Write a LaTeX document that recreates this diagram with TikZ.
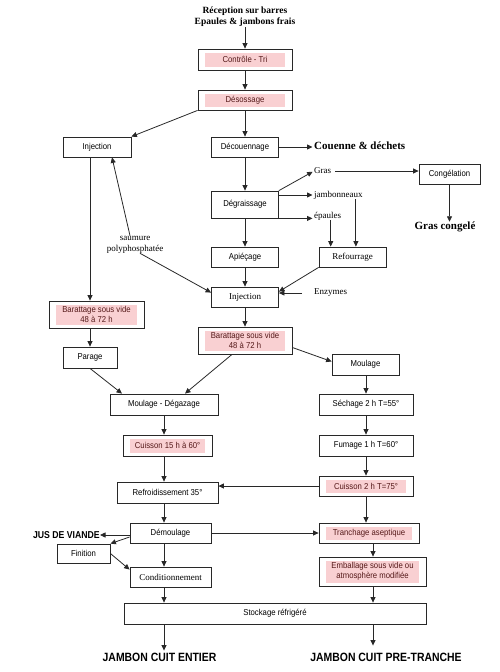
\documentclass[tikz,border=0pt]{standalone}
\usepackage{fontspec}
\setmainfont{Liberation Serif}
\setsansfont{Liberation Sans}
\newfontfamily\narrowsans[FakeStretch=0.9]{Liberation Sans}
\newfontfamily\narrowsansb[FakeStretch=0.87]{Liberation Sans Bold}
\usetikzlibrary{arrows.meta,calc}

\definecolor{rose}{RGB}{249,208,210}
\definecolor{roseText}{RGB}{85,25,25}
\definecolor{trait}{RGB}{40,40,40}

\begin{document}
\begin{tikzpicture}[x=1pt,y=-1pt]
    % -----------------------------
    % Parameters (1 unit = 1 pixel, y pointing down)
    % -----------------------------
    \def\colL{164}      % left column  (jambon entier)
    \def\colM{245}      % central column
    \def\colR{366}      % right column (jambon pre-tranche)
    \def\colRb{373}     % right column, lower part
    \def\colLL{90}      % far left column (injection / barattage)

    % Fonts
    \newcommand{\boxfont}{\narrowsans\fontsize{8.6}{10}\selectfont}
    \newcommand{\lblfont}{\rmfamily\fontsize{9}{11}\selectfont}
    \newcommand{\bigserif}{\rmfamily\bfseries\fontsize{11}{13}\selectfont}
    \newcommand{\bigsans}{\narrowsansb\fontsize{12}{14}\selectfont}
    \newcommand{\capsfont}{\narrowsansb\fontsize{10}{12}\selectfont}

    % -----------------------------
    % Styles
    % -----------------------------
    \tikzset{
      etape/.style={draw=trait, line width=0.8pt, fill=white, inner sep=0pt,
                    minimum height=20pt, font=\boxfont, align=center},
      etapeRose/.style={etape, text=roseText,
        path picture={\fill[rose]
          ($(path picture bounding box.south west)+(7pt,3.5pt)$) rectangle
          ($(path picture bounding box.north east)+(-7pt,-3.5pt)$);}},
      lien/.style={draw=trait, line width=0.8pt, -{Triangle[length=5.5pt,width=5pt]}},
      lbl/.style={inner sep=0pt, font=\lblfont},
    }

    \useasboundingbox (0,0) rectangle (500,672);

    % column guides
    \coordinate (xL)  at (\colL,0);
    \coordinate (xR)  at (\colR,0);
    \coordinate (xRb) at (\colRb,0);
    \coordinate (xLL) at (\colLL,0);

    % -----------------------------
    % Steps
    % -----------------------------
    \node[lbl, font=\rmfamily\bfseries\fontsize{9.5}{11}\selectfont, align=center] (recep) at (\colM,17)
         {Réception sur barres\\Epaules \& jambons frais};
    \node[etapeRose, minimum width=94pt, minimum height=21pt] (ctrl) at (\colM,59.5) {Contrôle - Tri};
    \node[etapeRose, minimum width=94pt] (deso) at (\colM,100) {Désossage};
    \node[etape, minimum width=68pt] (injL) at (97,147) {Injection};
    \node[etape, minimum width=67pt] (decou) at (\colM,147) {Découennage};
    \node[lbl, anchor=west, font=\bigserif] (couenne) at (314,146) {Couenne \& déchets};
    \node[etape, minimum width=67pt, minimum height=27pt] (degr) at (\colM,204.5) {Dégraissage};
    \node[lbl, anchor=west] (gras) at (314,171) {Gras};
    \node[etape, minimum width=61pt] (cong) at (449.5,174) {Congélation};
    \node[lbl, font=\bigserif] (grascong) at (445,227) {Gras congelé};
    \node[lbl, anchor=west] (jamb) at (314,195) {jambonneaux};
    \node[lbl, anchor=west] (epau) at (314,216) {épaules};
    \node[etape, minimum width=67pt, font=\lblfont] (refour) at (352.5,257) {Refourrage};
    \node[etape, minimum width=67pt] (apie) at (\colM,257) {Apiéçage};
    \node[lbl, align=center] (saum) at (135,244.5) {saumure\\polyphosphatée};
    \node[etape, minimum width=67pt, font=\lblfont] (injC) at (\colM,297) {Injection};
    \node[lbl, anchor=west] (enz) at (314,293) {Enzymes};
    \node[etapeRose, minimum width=95pt, minimum height=27pt] (baratL) at (96.5,314.5) {Barattage sous vide\\48 à 72 h};
    \node[etape, minimum width=54pt, minimum height=21pt] (parage) at (\colLL,357.5) {Parage};
    \node[etapeRose, minimum width=94pt, minimum height=27pt] (baratC) at (\colM,340.5) {Barattage sous vide\\48 à 72 h};
    \node[etape, minimum width=67pt, minimum height=21pt] (moul) at (365.5,364.5) {Moulage};
    \node[etape, minimum width=108pt, minimum height=21pt] (moudeg) at (\colL,404.5) {Moulage - Dégazage};
    \node[etape, minimum width=94pt, minimum height=21pt] (sech) at (\colR,404.5) {Séchage 2 h T=55°};
    \node[etapeRose, minimum width=89pt, minimum height=21pt] (cuis15) at (167.5,445.5) {Cuisson 15 h à 60°};
    \node[etape, minimum width=94pt, minimum height=21pt] (fum) at (\colR,445.5) {Fumage 1 h T=60°};
    \node[etapeRose, minimum width=94pt] (cuis2) at (\colR,486) {Cuisson 2 h T=75°};
    \node[etape, minimum width=101pt, minimum height=21pt] (refr) at (167.5,492.5) {Refroidissement 35°};
    \node[etape, minimum width=81pt] (demoul) at (170.5,533) {Démoulage};
    \node[lbl, anchor=east, font=\capsfont] (jus) at (100,535) {JUS DE VIANDE};
    \node[etape, minimum width=53pt, minimum height=19pt] (fini) at (83.5,553.5) {Finition};
    \node[etape, minimum width=81pt, font=\lblfont] (cond) at (170.5,577) {Conditionnement};
    \node[etapeRose, minimum width=100pt] (tranch) at (369,533) {Tranchage aseptique};
    \node[etapeRose, minimum width=107pt, minimum height=29pt] (emb) at (372.5,571.5)
         {Emballage sous vide ou\\atmosphère modifiée};
    \node[etape, minimum width=302pt, minimum height=21pt] (stock) at (275,613.5) {Stockage réfrigéré};
    \node[lbl, font=\bigsans] (entier) at (159.5,657) {JAMBON CUIT ENTIER};
    \node[lbl, font=\bigsans] (pretr) at (386,657) {JAMBON CUIT PRE-TRANCHE};

    % -----------------------------
    % Connectors
    % -----------------------------
    \draw[lien] (recep) -- (ctrl);
    \draw[lien] (ctrl) -- (deso);
    \draw[lien] (deso.south west) -- (injL.north east);
    \draw[lien] (deso) -- (decou);
    \draw[lien, shorten >=1.5pt] (decou.east) -- (decou.east -| couenne.west);
    \draw[lien] (decou) -- (degr);
    \draw[lien, shorten >=1.5pt] (degr.north east) -- (gras.west);
    \draw[lien, shorten <=4pt] (gras.east) -- (gras.east -| cong.west);
    \draw[lien] (cong.south) -- (cong.south |- grascong.north);
    \draw[lien, shorten >=1.5pt] (degr.east |- jamb.west) -- (jamb.west);
    \draw[lien, shorten >=1.5pt] (degr.south east) -- (degr.south east -| epau.west);

    \coordinate (jdrop) at ([xshift=-7pt]jamb.south east);
    \coordinate (edrop) at ([xshift=3pt]epau.south);
    \draw[lien] (jdrop) -- (jdrop |- refour.north);
    \draw[lien] (edrop) -- (edrop |- refour.north);

    \draw[lien] (degr) -- (apie);
    \draw[lien] (apie) -- (injC);
    \draw[lien] (refour.south west) -- ([yshift=-5pt]injC.north east);
    \draw[lien, shorten <=12pt] (enz.west) -- (enz.west -| injC.east);
    \draw[lien] ([xshift=-5pt]saum.north) -- ([xshift=15pt]injL.south);
    \draw[lien] ([xshift=5pt]saum.south) -- ([yshift=-6pt]injC.north west);

    \draw[lien] (injL.south -| xLL) -- (baratL.north -| xLL);
    \draw[lien] (baratL.south -| parage) -- (parage);
    \draw[lien] (injC) -- (baratC);
    \draw[lien] ([yshift=-7pt]baratC.east) -- ([yshift=3pt]moul.west);
    \draw[lien] ([xshift=-13pt]baratC.south) -- ([xshift=21pt]moudeg.north);
    \draw[lien] (parage.south) -- ([xshift=-42pt]moudeg.north);

    \draw[lien] (moul.south -| xR) -- (sech.north -| xR);
    \draw[lien] (sech) -- (fum);
    \draw[lien] (fum) -- (cuis2);
    \draw[lien] (moudeg.south -| xL) -- (cuis15.north -| xL);
    \draw[lien] (cuis15.south -| xL) -- (refr.north -| xL);
    \draw[lien] (cuis2.west) -- (cuis2.west -| refr.east);
    \draw[lien] (refr.south -| xL) -- (demoul.north -| xL);

    \draw[lien] (demoul.west |- jus.east) -- (jus.east);
    \draw[lien] ([yshift=-4pt]demoul.west) -- (fini.north east);
    \draw[lien] (fini.east) -- ([yshift=-3pt]cond.north west);
    \draw[lien] (demoul.south -| xL) -- (cond.north -| xL);
    \draw[lien] (demoul.east) -- (tranch.west);
    \draw[lien] (cuis2.south -| xR) -- (tranch.north -| xR);
    \draw[lien] (tranch.south -| xRb) -- (emb.north -| xRb);

    \draw[lien] (cond.south -| xL) -- (stock.north -| xL);
    \draw[lien] (emb.south -| xRb) -- (stock.north -| xRb);
    \draw[lien, shorten >=2pt] (stock.south -| xL) -- (entier.north -| xL);
    \draw[lien, shorten >=7pt] (stock.south -| xRb) -- (pretr.north -| xRb);

\end{tikzpicture}
\end{document}
